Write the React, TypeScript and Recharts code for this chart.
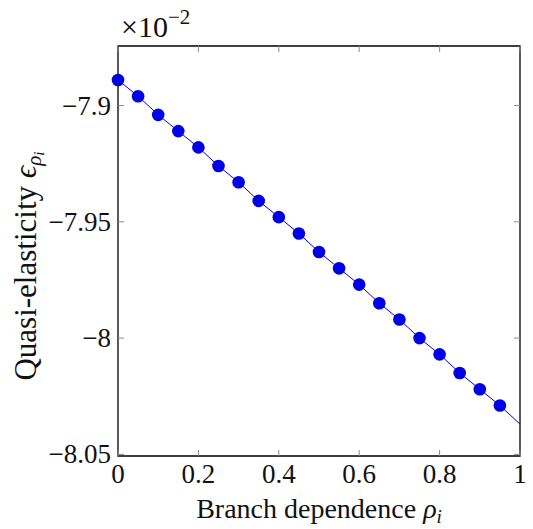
import { LineChart, Line, XAxis, YAxis, ReferenceArea } from "recharts";

// branch dependence rho_i (the last entry only carries the line to the edge, no marker)
const rho = [0, 0.05, 0.1, 0.15, 0.2, 0.25, 0.3, 0.35, 0.4, 0.45, 0.5, 0.55, 0.6, 0.65, 0.7, 0.75, 0.8, 0.85, 0.9, 0.95, 1];
// quasi-elasticity, in units of 10^-2
const elasticity = [
  -7.889, -7.896, -7.904, -7.911, -7.918, -7.926, -7.933, -7.941, -7.948, -7.955,
  -7.963, -7.970, -7.977, -7.985, -7.992, -8.000, -8.007, -8.015, -8.022, -8.029, -8.037,
];
const xTicks = [0, 0.2, 0.4, 0.6, 0.8, 1];
const yTicks = [-8.05, -8, -7.95, -7.9];
const yDomain = [-8.0507, -7.8744];

const data = rho.map((r, i) => ({ rho: r, eps: elasticity[i] }));

const W = 533;
const H = 529;
const TOP = 46;
const LEFT = 118;
const RIGHT = 520;
const BOTTOM = 456;
const TICK = 6;
const FONT = "'Liberation Serif', 'Times New Roman', serif";
const BLUE = "#0000e8";
const txt = { fontFamily: FONT, fill: "#111" };

const fmt = (v: number) => (v < 0 ? "\u2212" + String(-v) : String(v));

function XTick(props: any) {
  const { x, payload } = props;
  return (
    <g>
      <line x1={x} y1={BOTTOM} x2={x} y2={BOTTOM - TICK} stroke="#8a8a8a" />
      <line x1={x} y1={TOP} x2={x} y2={TOP + TICK} stroke="#8a8a8a" />
      <text x={x} y={BOTTOM + 27} textAnchor="middle" style={{ ...txt, fontSize: 27 }}>
        {fmt(payload.value)}
      </text>
    </g>
  );
}

function YTick(props: any) {
  const { y, payload } = props;
  return (
    <g>
      <line x1={LEFT} y1={y} x2={LEFT + TICK} y2={y} stroke="#8a8a8a" />
      <line x1={RIGHT} y1={y} x2={RIGHT - TICK} y2={y} stroke="#8a8a8a" />
      <text x={LEFT - 7} y={y + 9} textAnchor="end" style={{ ...txt, fontSize: 27 }}>
        {fmt(payload.value)}
      </text>
    </g>
  );
}

const Marker = (p: any) =>
  p.index < rho.length - 1 ? (
    <circle key={p.index} cx={p.cx} cy={p.cy} r={6.3} fill={BLUE} stroke="none" />
  ) : (
    <g key={p.index} />
  );

const XLabel = () => (
  <text x={(LEFT + RIGHT) / 2} y={518} textAnchor="middle" style={{ ...txt, fontSize: 28 }}>
    Branch dependence{" "}
    <tspan fontStyle="italic">ρ</tspan>
    <tspan fontStyle="italic" fontSize={19} dy={5}>i</tspan>
  </text>
);

const YLabel = () => {
  const cx = 36;
  const cy = 266;
  return (
    <g>
      <text
        x={cx}
        y={cy}
        transform={`rotate(-90 ${cx} ${cy})`}
        textAnchor="middle"
        style={{ ...txt, fontSize: 31 }}
      >
        Quasi-elasticity <tspan fontStyle="italic">ϵ</tspan>
        <tspan fontStyle="italic" fontSize={21} dy={5}>ρ</tspan>
        <tspan fontStyle="italic" fontSize={15} dy={3}>i</tspan>
      </text>
      <text x={LEFT + 3} y={37} style={{ ...txt, fontSize: 30 }}>
        ×10<tspan fontSize={21} dy={-13}>−2</tspan>
      </text>
    </g>
  );
};

export default function App() {
  return (
    <div style={{ position: "absolute", left: 0, top: 0, background: "#fff" }}>
      <LineChart width={W} height={H} data={data} margin={{ top: TOP, right: W - RIGHT, bottom: 0, left: 0 }}>
        <XAxis
          dataKey="rho"
          type="number"
          domain={[0, 1]}
          ticks={xTicks}
          tick={<XTick />}
          tickLine={false}
          axisLine={false}
          tickSize={0}
          height={H - BOTTOM}
          label={<XLabel />}
        />
        <YAxis
          type="number"
          domain={yDomain}
          ticks={yTicks}
          tick={<YTick />}
          tickLine={false}
          axisLine={false}
          tickSize={0}
          width={LEFT}
          allowDataOverflow
          label={<YLabel />}
        />
        <ReferenceArea
          x1={0}
          x2={1}
          y1={yDomain[0]}
          y2={yDomain[1]}
          fill="none"
          stroke="#000"
          strokeWidth={1.3}
          ifOverflow="visible"
        />
        <Line
          type="linear"
          dataKey="eps"
          stroke={BLUE}
          strokeWidth={1}
          dot={Marker}
          activeDot={false}
          isAnimationActive={false}
        />
      </LineChart>
    </div>
  );
}
